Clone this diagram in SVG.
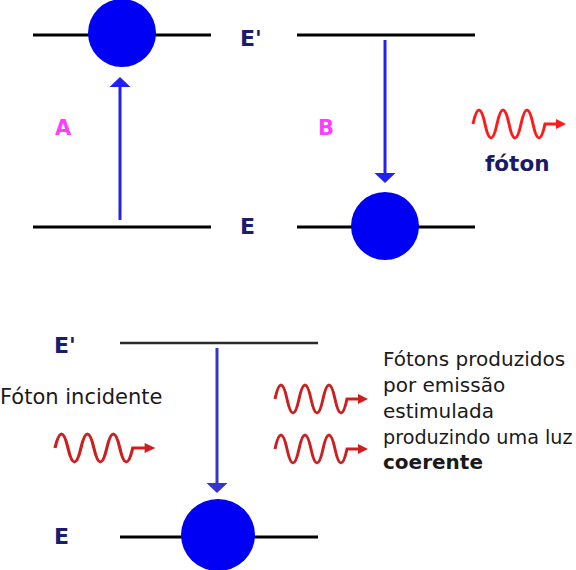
<svg xmlns="http://www.w3.org/2000/svg" width="576" height="570" viewBox="0 0 576 570">
  <style>
    .level { stroke: #000; stroke-width: 3; fill: none; }
    .level2 { stroke: #2a2a2a; stroke-width: 2.5; fill: none; }
    .atom { fill: #0000f5; }
    .trans { stroke: #2222f0; stroke-width: 3; fill: none; marker-end: url(#head); }
    .trans2 { stroke: #3535cc; stroke-width: 3; fill: none; marker-end: url(#head2); }
    .lbl { font-family: "DejaVu Sans", Verdana, sans-serif; font-weight: bold; font-size: 22px; fill: #1c1c6c; }
    .step { font-family: "DejaVu Sans", Verdana, sans-serif; font-weight: bold; font-size: 21px; fill: #ff3cff; }
    .txt { font-family: "DejaVu Sans", Verdana, sans-serif; font-size: 20px; fill: #1a1a1a; }
    .wave { stroke: #ff1a1a; color: #ff1a1a; stroke-width: 3; fill: none; }
    .wave2 { stroke: #cc2020; color: #cc2020; stroke-width: 3; fill: none; }
  </style>
  <defs>
    <marker id="head" markerUnits="userSpaceOnUse" markerWidth="12" markerHeight="22" refX="0" refY="10.5" orient="auto" overflow="visible">
      <path d="M0,0 L10,10.5 L0,21 Z" fill="#2222f0"/>
    </marker>
    <marker id="head2" markerUnits="userSpaceOnUse" markerWidth="12" markerHeight="22" refX="0" refY="10.5" orient="auto" overflow="visible">
      <path d="M0,0 L10,10.5 L0,21 Z" fill="#3535cc"/>
    </marker>
    <g id="photon">
      <path d="M0,0 Q6,-28 12,0 Q18,28 24,0 Q30,-28 36,0 Q42,28 48,0 Q54,-28 60,0 Q66,28 72,0 L86,0"/>
      <path d="M83,-5 L93,0 L83,5 Z" stroke="none" fill="currentColor"/>
    </g>
  </defs>

  <!-- Part A: absorption -->
  <g id="stateA">
    <line class="level" x1="33" y1="35" x2="211" y2="35"/>
    <line class="level" x1="33" y1="227" x2="211" y2="227"/>
    <circle class="atom" cx="122" cy="33" r="34"/>
    <text class="step" x="55" y="135">A</text>
  </g>

  <g id="labelsTop">
    <text class="lbl" x="240" y="46">E'</text>
    <text class="lbl" x="240" y="234">E</text>
  </g>

  <!-- Part B: spontaneous emission -->
  <g id="stateB">
    <line class="level" x1="297" y1="35" x2="475" y2="35"/>
    <line class="level" x1="297" y1="227" x2="475" y2="227"/>
    <circle class="atom" cx="385" cy="226" r="34"/>
    <text class="step" x="318" y="135">B</text>
  </g>

  <g id="photonB">
    <use href="#photon" transform="translate(473,124)" class="wave"/>
    <text class="lbl" x="485" y="171" style="font-size:21.5px;fill:#1a1a66">fóton</text>
  </g>

  <!-- Part C: stimulated emission -->
  <g id="stateC">
    <line class="level2" x1="120" y1="343" x2="318" y2="343"/>
    <line class="level" x1="120" y1="537" x2="318" y2="537"/>
    <ellipse class="atom" cx="218" cy="535" rx="37" ry="36"/>
    <text class="lbl" x="54" y="353">E'</text>
    <text class="lbl" x="54" y="544">E</text>
  </g>

  <g id="incident">
    <text class="txt" x="0" y="404" style="font-size:21px">Fóton incidente</text>
    <use href="#photon" transform="translate(55,448) scale(1.08,1)" class="wave2"/>
  </g>

  <g id="stimulated">
    <use href="#photon" transform="translate(275,399)" class="wave2"/>
    <use href="#photon" transform="translate(275,449)" class="wave2"/>
    <text class="txt" x="383" y="366">Fótons produzidos</text>
    <text class="txt" x="383" y="392">por emissão</text>
    <text class="txt" x="383" y="418">estimulada</text>
    <text class="txt" x="383" y="444" style="font-size:19.2px">produzindo uma luz</text>
    <text class="txt" x="383" y="469" font-weight="bold">coerente</text>
  </g>

  <g id="connectors">
    <line class="trans" x1="120" y1="220" x2="120" y2="87"/>
    <line class="trans" x1="385" y1="40" x2="385" y2="173"/>
    <line class="trans2" x1="217" y1="348" x2="217" y2="483"/>
  </g>
</svg>
